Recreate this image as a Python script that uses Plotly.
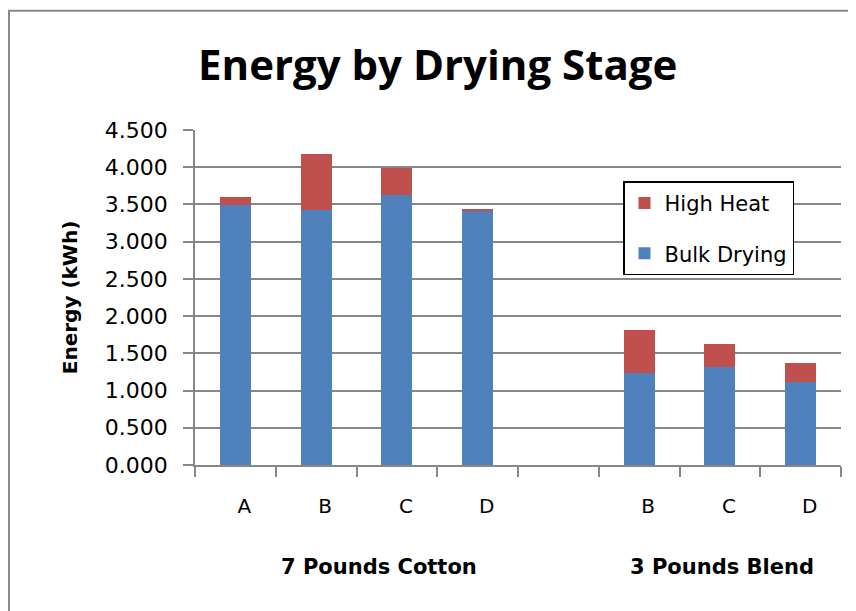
import plotly.graph_objects as go

# ---- data ----
cat_ids = ["cot-A", "cot-B", "cot-C", "cot-D", "gap", "bl-B", "bl-C", "bl-D"]
tick_labels = ["A", "B", "C", "D", "", "B", "C", "D"]
bulk_drying = [3.49, 3.43, 3.63, 3.41, None, 1.23, 1.31, 1.12]
high_heat = [0.11, 0.75, 0.36, 0.03, None, 0.59, 0.31, 0.25]
group_labels = ["7 Pounds Cotton", "3 Pounds Blend"]
y_ticks = [0, 0.5, 1.0, 1.5, 2.0, 2.5, 3.0, 3.5, 4.0, 4.5]

BLUE = "#4F81BD"
RED = "#C0504D"
GRID = "#878787"
FONT = "DejaVu Sans"

fig = go.Figure()
fig.add_trace(go.Bar(x=cat_ids, y=bulk_drying, name="Bulk Drying",
                     marker=dict(color=BLUE, line=dict(width=0)),
                     legendgroup="bulk", legendrank=2))
fig.add_trace(go.Bar(x=cat_ids, y=high_heat, name="High Heat",
                     marker=dict(color=RED, line=dict(width=0)),
                     legendgroup="heat", legendrank=1))

OFF = 8  # page body margin
W, H = 856, 611
L = 195 - OFF
T = 129.5 - OFF
R = W - (841 - OFF)
B = H - (465 - OFF)
pw = W - L - R
ph = H - T - B

def px(x):
    # window x -> paper x
    return (x - OFF - L) / pw

def py(y):
    # window y -> paper y
    return (H - B - (y - OFF)) / ph

fig.update_layout(
    width=W, height=H,
    margin=dict(l=L, r=R, t=T, b=B, pad=0),
    barmode="stack",
    bargap=0.615,
    paper_bgcolor="white",
    plot_bgcolor="white",
    font=dict(family=FONT, color="black", size=17),
    showlegend=True,
    legend=dict(
        x=px(623), y=py(181), xanchor="left", yanchor="top",
        bordercolor="black", borderwidth=1.5, bgcolor="white",
        traceorder="grouped", tracegroupgap=20,
        font=dict(family=FONT, size=21, color="black"),
        itemwidth=30,
    ),
    xaxis=dict(
        type="category",
        categoryorder="array", categoryarray=cat_ids,
        tickmode="array", tickvals=cat_ids, ticktext=tick_labels,
        tickson="boundaries",
        ticks="outside", ticklen=10, tickcolor=GRID, tickwidth=1.5,
        showline=True, linecolor=GRID, linewidth=1.5,
        showgrid=False,
        ticklabelstandoff=22,
        ticklabelshift=9,
        tickfont=dict(family=FONT, size=20, color="black"),
    ),
    yaxis=dict(
        range=[0, 4.5],
        tickmode="array", tickvals=y_ticks,
        ticktext=[f"{v:.3f}" for v in y_ticks],
        ticks="outside", ticklen=10, tickcolor=GRID, tickwidth=1.5,
        showline=True, linecolor=GRID, linewidth=1.5,
        showgrid=True, gridcolor=GRID, gridwidth=1.5,
        zeroline=False,
        ticklabelstandoff=11,
        tickfont=dict(family=FONT, size=22, color="black"),
        title=dict(text="<b>Energy (kWh)</b>", standoff=22,
                   font=dict(family=FONT, size=20, color="black")),
    ),
)

# chart title
fig.add_annotation(text="<b>Energy by Drying Stage</b>", xref="paper", yref="paper",
                   x=px(437), y=py(63), xanchor="center", yanchor="middle",
                   showarrow=False, font=dict(family="Open Sans", size=42, color="black"))

# group labels
fig.add_annotation(text="<b>" + group_labels[0] + "</b>", xref="paper", yref="paper",
                   x=px(379), y=py(567), xanchor="center", yanchor="middle",
                   showarrow=False, font=dict(family=FONT, size=21, color="black"))
fig.add_annotation(text="<b>" + group_labels[1] + "</b>", xref="paper", yref="paper",
                   x=px(722), y=py(567), xanchor="center", yanchor="middle",
                   showarrow=False, font=dict(family=FONT, size=21, color="black"))

# chart frame
fig.add_shape(type="rect", xref="paper", yref="paper",
              x0=px(9), y0=py(700), x1=px(1000), y1=py(10),
              line=dict(color="#8a8a8a", width=2), fillcolor="rgba(0,0,0,0)", layer="below")

fig.write_html("out.html")
